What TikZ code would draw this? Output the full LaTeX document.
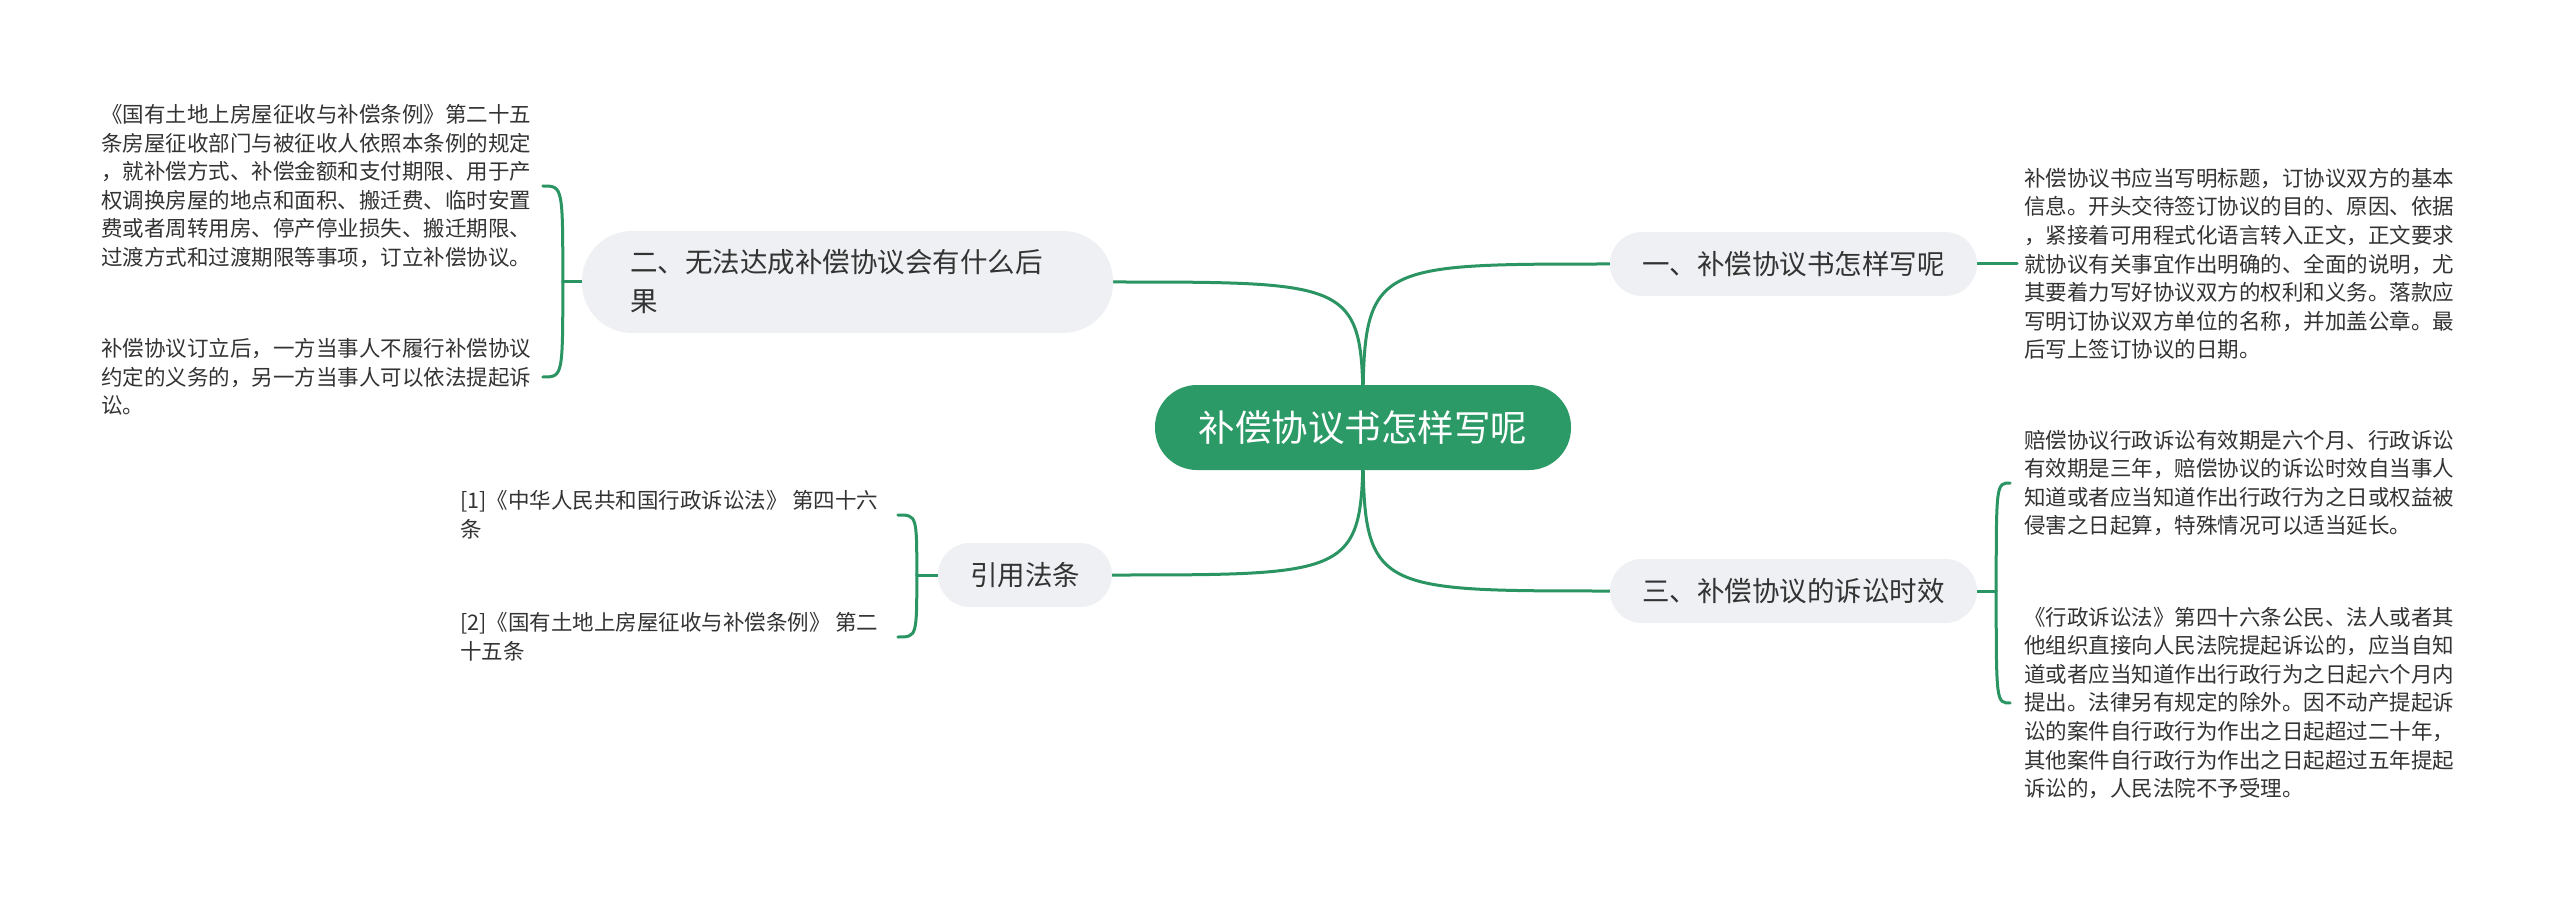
\documentclass[tikz,border=0pt]{standalone}
\usepackage{fontspec}
\setmainfont{Noto Sans CJK SC}
\usetikzlibrary{calc}
\pgfdeclarelayer{paper}
\pgfdeclarelayer{links}
\pgfsetlayers{paper,links,main}
\definecolor{mmgreen}{HTML}{2B9A66}
\definecolor{linegreen}{HTML}{2A9462}
\definecolor{topicfill}{HTML}{EEF0F3}
\definecolor{txt}{HTML}{333333}
\tikzset{
  central/.style={fill=mmgreen, text=white, rounded corners=42pt, minimum width=416pt, minimum height=85pt, inner sep=0pt, font=\fontsize{36.5pt}{44pt}\selectfont},
  topic/.style={fill=topicfill, text=txt, inner sep=0pt, minimum height=64pt, rounded corners=32pt, font=\fontsize{27.5pt}{39pt}\selectfont},
  leaf/.style={text=txt, inner sep=0pt, align=left, anchor=west, font=\fontsize{21.5pt}{28.6pt}\selectfont},
  link/.style={draw=linegreen, line width=3pt, line cap=round},
}
\begin{document}
\begin{tikzpicture}[x=1pt,y=-1pt]
\useasboundingbox (0,0) rectangle (2560,901);
\begin{pgfonlayer}{paper}
\fill[white] (0,0) rectangle (2560,901);
\end{pgfonlayer}

% central and main topics
\node[central] (c) at (1363,427.5) {补偿协议书怎样写呢};
\node[topic, minimum width=367pt] (t1) at (1793.5,264) {一、补偿协议书怎样写呢};
\node[topic, minimum width=367pt] (t3) at (1793.5,591) {三、补偿协议的诉讼时效};
\node[topic, minimum width=174pt] (tr) at (1025,575) {引用法条};
\node[topic, minimum height=102pt, rounded corners=50pt, text width=435pt, inner xsep=48pt, align=left] (t2) at (847.5,282) {二、无法达成补偿协议会有什么后\\果};

% leaves
\node[leaf] (L1) at (101,186) {《国有土地上房屋征收与补偿条例》第二十五\\条房屋征收部门与被征收人依照本条例的规定\\，就补偿方式、补偿金额和支付期限、用于产\\权调换房屋的地点和面积、搬迁费、临时安置\\费或者周转用房、停产停业损失、搬迁期限、\\过渡方式和过渡期限等事项，订立补偿协议。};
\node[leaf] (L2) at (101,377) {补偿协议订立后，一方当事人不履行补偿协议\\约定的义务的，另一方当事人可以依法提起诉\\讼。};
\node[leaf] (F1) at (460,515) {[1]《中华人民共和国行政诉讼法》 第四十六\\条};
\node[leaf] (F2) at (460,637) {[2]《国有土地上房屋征收与补偿条例》 第二\\十五条};
\node[leaf] (R1) at (2024,264) {补偿协议书应当写明标题，订协议双方的基本\\信息。开头交待签订协议的目的、原因、依据\\，紧接着可用程式化语言转入正文，正文要求\\就协议有关事宜作出明确的、全面的说明，尤\\其要着力写好协议双方的权利和义务。落款应\\写明订协议双方单位的名称，并加盖公章。最\\后写上签订协议的日期。};
\node[leaf] (R2) at (2024,483) {赔偿协议行政诉讼有效期是六个月、行政诉讼\\有效期是三年，赔偿协议的诉讼时效自当事人\\知道或者应当知道作出行政行为之日或权益被\\侵害之日起算，特殊情况可以适当延长。};
\node[leaf] (R3) at (2024,703) {《行政诉讼法》第四十六条公民、法人或者其\\他组织直接向人民法院提起诉讼的，应当自知\\道或者应当知道作出行政行为之日起六个月内\\提出。法律另有规定的除外。因不动产提起诉\\讼的案件自行政行为作出之日起超过二十年，\\其他案件自行政行为作出之日起超过五年提起\\诉讼的，人民法院不予受理。};

% junctions and bracket ends
\coordinate (e1) at ($(R1.west)+(-7,0)$);
\coordinate (j2) at ($(t2.west)+(-19,0)$);
\coordinate (e21) at ($(j2 |- L1.east)+(-20,0)$);
\coordinate (e22) at ($(j2 |- L2.east)+(-20,0)$);
\coordinate (j3) at ($(t3.east)+(19,0)$);
\coordinate (e31) at ($(j3 |- R2.west)+(14,0)$);
\coordinate (e32) at ($(j3 |- R3.west)+(14,0)$);
\coordinate (j4) at ($(tr.west)+(-21,0)$);
\coordinate (e41) at ($(j4 |- F1.east)+(-19,0)$);
\coordinate (e42) at ($(j4 |- F2.east)+(-19,0)$);

\begin{pgfonlayer}{links}
\draw[link] (c.center) .. controls (c.center |- t1.west) .. (t1.west);
\draw[link] (c.center) .. controls (c.center |- t3.west) .. (t3.west);
\draw[link] (c.center) .. controls (c.center |- t2.east) .. (t2.east);
\draw[link] (c.center) .. controls (c.center |- tr.east) .. (tr.east);
\draw[link] (t1.east) -- (e1);
\draw[link] (t2.west) -- (j2);
\draw[link] (j2) .. controls (j2 |- e21) .. (e21);
\draw[link] (j2) .. controls (j2 |- e22) .. (e22);
\draw[link] (t3.east) -- (j3);
\draw[link] (j3) .. controls (j3 |- e31) .. (e31);
\draw[link] (j3) .. controls (j3 |- e32) .. (e32);
\draw[link] (tr.west) -- (j4);
\draw[link] (j4) .. controls (j4 |- e41) .. (e41);
\draw[link] (j4) .. controls (j4 |- e42) .. (e42);
\end{pgfonlayer}
\end{tikzpicture}
\end{document}
